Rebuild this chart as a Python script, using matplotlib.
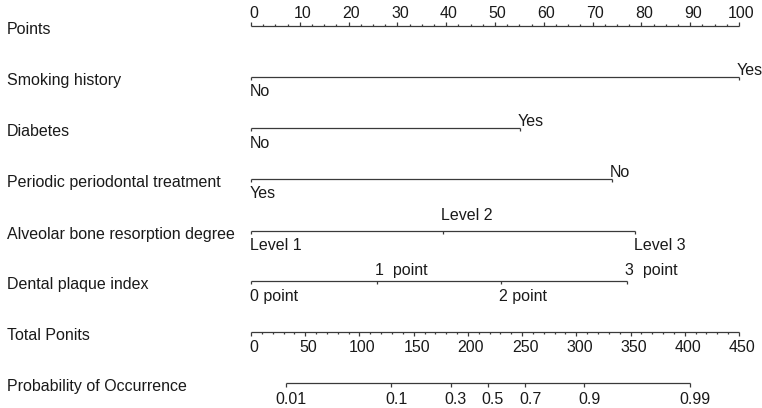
import matplotlib
matplotlib.use("Agg")
import matplotlib.pyplot as plt
from matplotlib.transforms import blended_transform_factory

plt.rcParams["font.family"] = ["Liberation Sans", "DejaVu Sans"]

# -------- data --------
row_names = ["Points", "Smoking history", "Diabetes", "Periodic periodontal treatment",
             "Alveolar bone resorption degree", "Dental plaque index",
             "Total Ponits", "Probability of Occurrence"]

smoking_levels = ["No", "Yes"]
smoking_points = [0, 100]

diabetes_levels = ["No", "Yes"]
diabetes_points = [0, 55.1]

treatment_levels = ["Yes", "No"]
treatment_points = [0, 74.0]

alveolar_levels = ["Level 1", "Level 2", "Level 3"]
alveolar_points = [0, 39.3, 78.7]

plaque_levels = ["0 point", "1  point", "2 point", "3  point"]
plaque_points = [0, 25.8, 51.2, 77.0]

points_ticks = list(range(0, 101, 10))
total_ticks = list(range(0, 451, 50))
total_max = 450

prob_labels = ["0.01", "0.1", "0.3", "0.5", "0.7", "0.9", "0.99"]
prob_total = [32.3, 129.5, 184.2, 218.5, 252.8, 307.5, 404.7]

# -------- layout --------
W, H = 762, 408
x0, ppp = 251, 4.88          # pixel of 0 points, pixels per point
row_y = [26, 77, 128, 179, 231, 281, 332, 383]
fs = 11.5
lc = "#3a3a3a"
tc = "#1a1a1a"

fig = plt.figure(figsize=(W / 100, H / 100), dpi=100)
ax = fig.add_axes([0, 0, 1, 1])
ax.set_xlim(-x0 / ppp, (W - x0) / ppp)
ax.set_ylim(H, 0)
ax.axis("off")

px = 1 / ppp  # one pixel in points units
lw = 0.9

def hline(a, b, y):
    ax.plot([a, b], [y, y], color=lc, lw=lw, solid_capstyle="butt")

def vtick(x, y, length):
    ax.plot([x, x], [y, y + length], color=lc, lw=lw, solid_capstyle="butt")

# left labels
lab_tr = blended_transform_factory(fig.transFigure, ax.transData)
for name, y in zip(row_names, row_y):
    ax.text(7 / W, y + 3.5, name, transform=lab_tr, ha="left", va="center",
            fontsize=fs, color=tc)

# Points axis (ticks up)
y = row_y[0]
hline(0, 100, y)
for v in [i * 2.5 for i in range(41)]:
    major = v % 10 == 0
    vtick(v, y, -4 if major else -2)
for v in points_ticks:
    ax.text(v + 2.5 * px, y - 12, str(v), ha="center", va="center", fontsize=fs, color=tc)

# categorical rows
def cat_row(y, pts, labels, above, up_off=6.5):
    hline(min(pts), max(pts), y)
    for p, lab, up in zip(pts, labels, above):
        vtick(p, y, 3)
        if up:
            ax.text(p - 2 * px, y - up_off, lab, ha="left", va="center", fontsize=fs, color=tc)
        else:
            ax.text(p - 1.5 * px, y + 15, lab, ha="left", va="center", fontsize=fs, color=tc)

cat_row(row_y[1], smoking_points, smoking_levels, [False, True])
cat_row(row_y[2], diabetes_points, diabetes_levels, [False, True])
cat_row(row_y[3], treatment_points, treatment_levels, [False, True])
cat_row(row_y[4], alveolar_points, alveolar_levels, [False, True, False], up_off=15)
cat_row(row_y[5], plaque_points, plaque_levels, [False, True, False, True], up_off=11)

# Total points axis (ticks down)
to_pts = 100 / total_max
y = row_y[6]
hline(0, 100, y)
for v in range(0, total_max + 1, 10):
    vtick(v * to_pts, y, 4 if v % 50 == 0 else 2)
for v in total_ticks:
    ax.text(v * to_pts + 3 * px, y + 15, str(v), ha="center", va="center", fontsize=fs, color=tc)

# Probability axis
y = row_y[7]
hline(prob_total[0] * to_pts, prob_total[-1] * to_pts, y)
for t, lab in zip(prob_total, prob_labels):
    vtick(t * to_pts, y, 4)
    ax.text(t * to_pts + 5 * px, y + 16, lab, ha="center", va="center", fontsize=fs, color=tc)

fig.savefig("out.png", dpi=100)
